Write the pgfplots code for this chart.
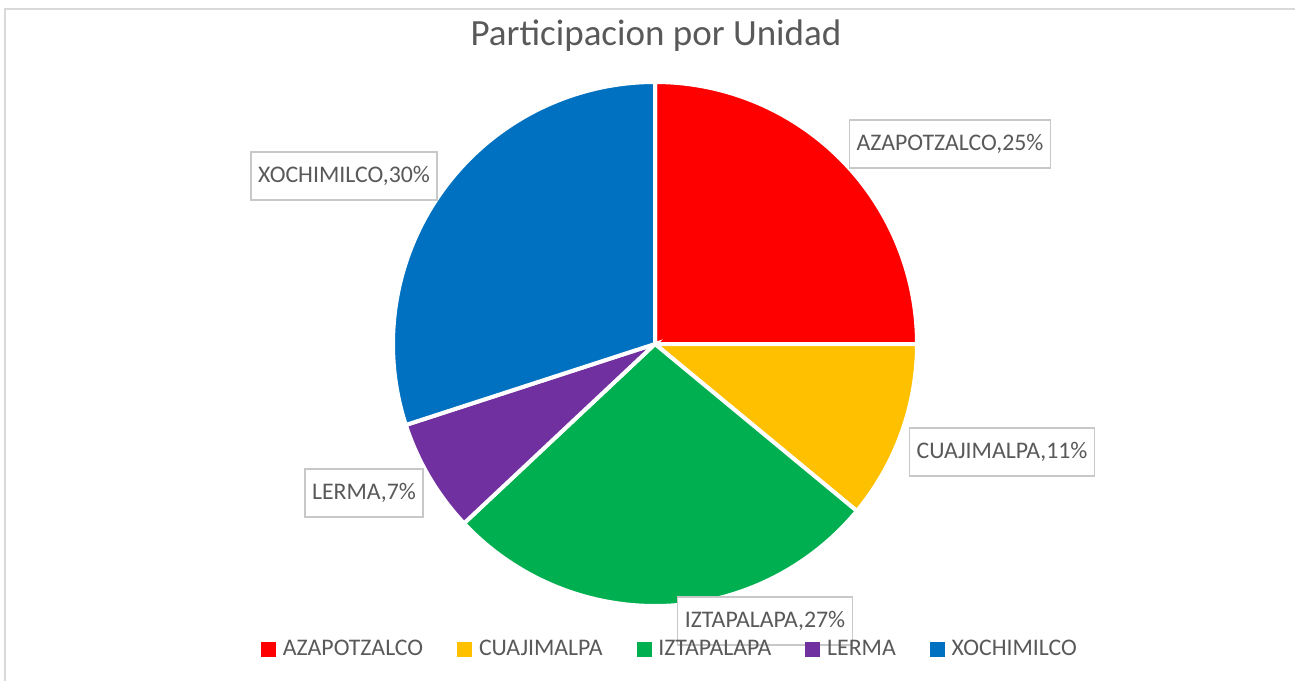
\documentclass[border=0pt]{standalone}
\usepackage{pgfplots}
\pgfplotsset{compat=1.18}
\usepackage{fontspec}
\setmainfont{Carlito}

\definecolor{azap}{HTML}{FF0000}
\definecolor{cuaj}{HTML}{FFC000}
\definecolor{izta}{HTML}{00B050}
\definecolor{lerm}{HTML}{7030A0}
\definecolor{xoch}{HTML}{0070C0}
\definecolor{txt}{HTML}{595959}
\definecolor{boxline}{HTML}{C8C8C8}
\definecolor{frame}{HTML}{D9D9D9}

% share of each unit, in %
\def\vA{25}
\def\vB{11}
\def\vC{27}
\def\vD{7}
\def\vE{30}

\newcommand{\lbl}{\fontsize{11.9}{14}\selectfont}

\begin{document}
\begin{tikzpicture}
\begin{axis}[
    width=647.5pt, height=340.5pt,
    scale only axis,
    xmin=0, xmax=1295, ymin=0, ymax=681,
    y dir=reverse,
    hide axis,
    clip=false,
    legend columns=5,
    legend style={
        at={(axis cs:671,649)}, anchor=center,
        draw=none, fill=none,
        font=\lbl, text=txt,
        /tikz/every odd column/.append style={column sep=1.5pt},
        /tikz/every even column/.append style={column sep=15pt},
        legend cell align=left,
        inner sep=0pt,
    },
]
% frame (top and left only visible)
\draw[frame, line width=1.2pt] (axis cs:5,681) -- (axis cs:5,9) -- (axis cs:1295,9);

% slices, clockwise from 12 o'clock, 3.6 deg per percent
\def\R{131pt}
\fill[azap, draw=white, line width=2pt] (axis cs:655,344) -- ++(90:\R)
    arc[start angle=90, end angle={90-3.6*\vA}, radius=\R] -- cycle;
\fill[cuaj, draw=white, line width=2pt] (axis cs:655,344) -- ++({90-3.6*\vA}:\R)
    arc[start angle={90-3.6*\vA}, end angle={90-3.6*(\vA+\vB)}, radius=\R] -- cycle;
\fill[izta, draw=white, line width=2pt] (axis cs:655,344) -- ++({90-3.6*(\vA+\vB)}:\R)
    arc[start angle={90-3.6*(\vA+\vB)}, end angle={90-3.6*(\vA+\vB+\vC)}, radius=\R] -- cycle;
\fill[lerm, draw=white, line width=2pt] (axis cs:655,344) -- ++({90-3.6*(\vA+\vB+\vC)}:\R)
    arc[start angle={90-3.6*(\vA+\vB+\vC)}, end angle={90-3.6*(\vA+\vB+\vC+\vD)}, radius=\R] -- cycle;
\fill[xoch, draw=white, line width=2pt] (axis cs:655,344) -- ++({90-3.6*(\vA+\vB+\vC+\vD)}:\R)
    arc[start angle={90-3.6*(\vA+\vB+\vC+\vD)}, end angle=-270, radius=\R] -- cycle;

% data labels
\tikzset{dl/.style={draw=boxline, line width=0.6pt, fill=white, text=txt, font=\lbl,
    inner xsep=3.5pt, minimum height=24pt}}
\node[dl] at (axis cs:950,144) {AZAPOTZALCO,\vA\%};
\node[dl] at (axis cs:1002,452) {CUAJIMALPA,\vB\%};
\node[dl] at (axis cs:765,621) {IZTAPALAPA,\vC\%};
\node[dl] at (axis cs:364,493) {LERMA,\vD\%};
\node[dl] at (axis cs:344,176) {XOCHIMILCO,\vE\%};

% title
\node[text=txt, font=\fontsize{18.5}{22}\selectfont] at (axis cs:656,36) {Participacion por Unidad};

\addlegendimage{legend image code/.code={\fill[azap] (0pt,-3.5pt) rectangle (7pt,3.5pt);}}
\addlegendentry{AZAPOTZALCO}
\addlegendimage{legend image code/.code={\fill[cuaj] (0pt,-3.5pt) rectangle (7pt,3.5pt);}}
\addlegendentry{CUAJIMALPA}
\addlegendimage{legend image code/.code={\fill[izta] (0pt,-3.5pt) rectangle (7pt,3.5pt);}}
\addlegendentry{IZTAPALAPA}
\addlegendimage{legend image code/.code={\fill[lerm] (0pt,-3.5pt) rectangle (7pt,3.5pt);}}
\addlegendentry{LERMA}
\addlegendimage{legend image code/.code={\fill[xoch] (0pt,-3.5pt) rectangle (7pt,3.5pt);}}
\addlegendentry{XOCHIMILCO}
\end{axis}
\pgfresetboundingbox
\path[use as bounding box] (0,0) rectangle (647.5pt,340.5pt);
\end{tikzpicture}
\end{document}
